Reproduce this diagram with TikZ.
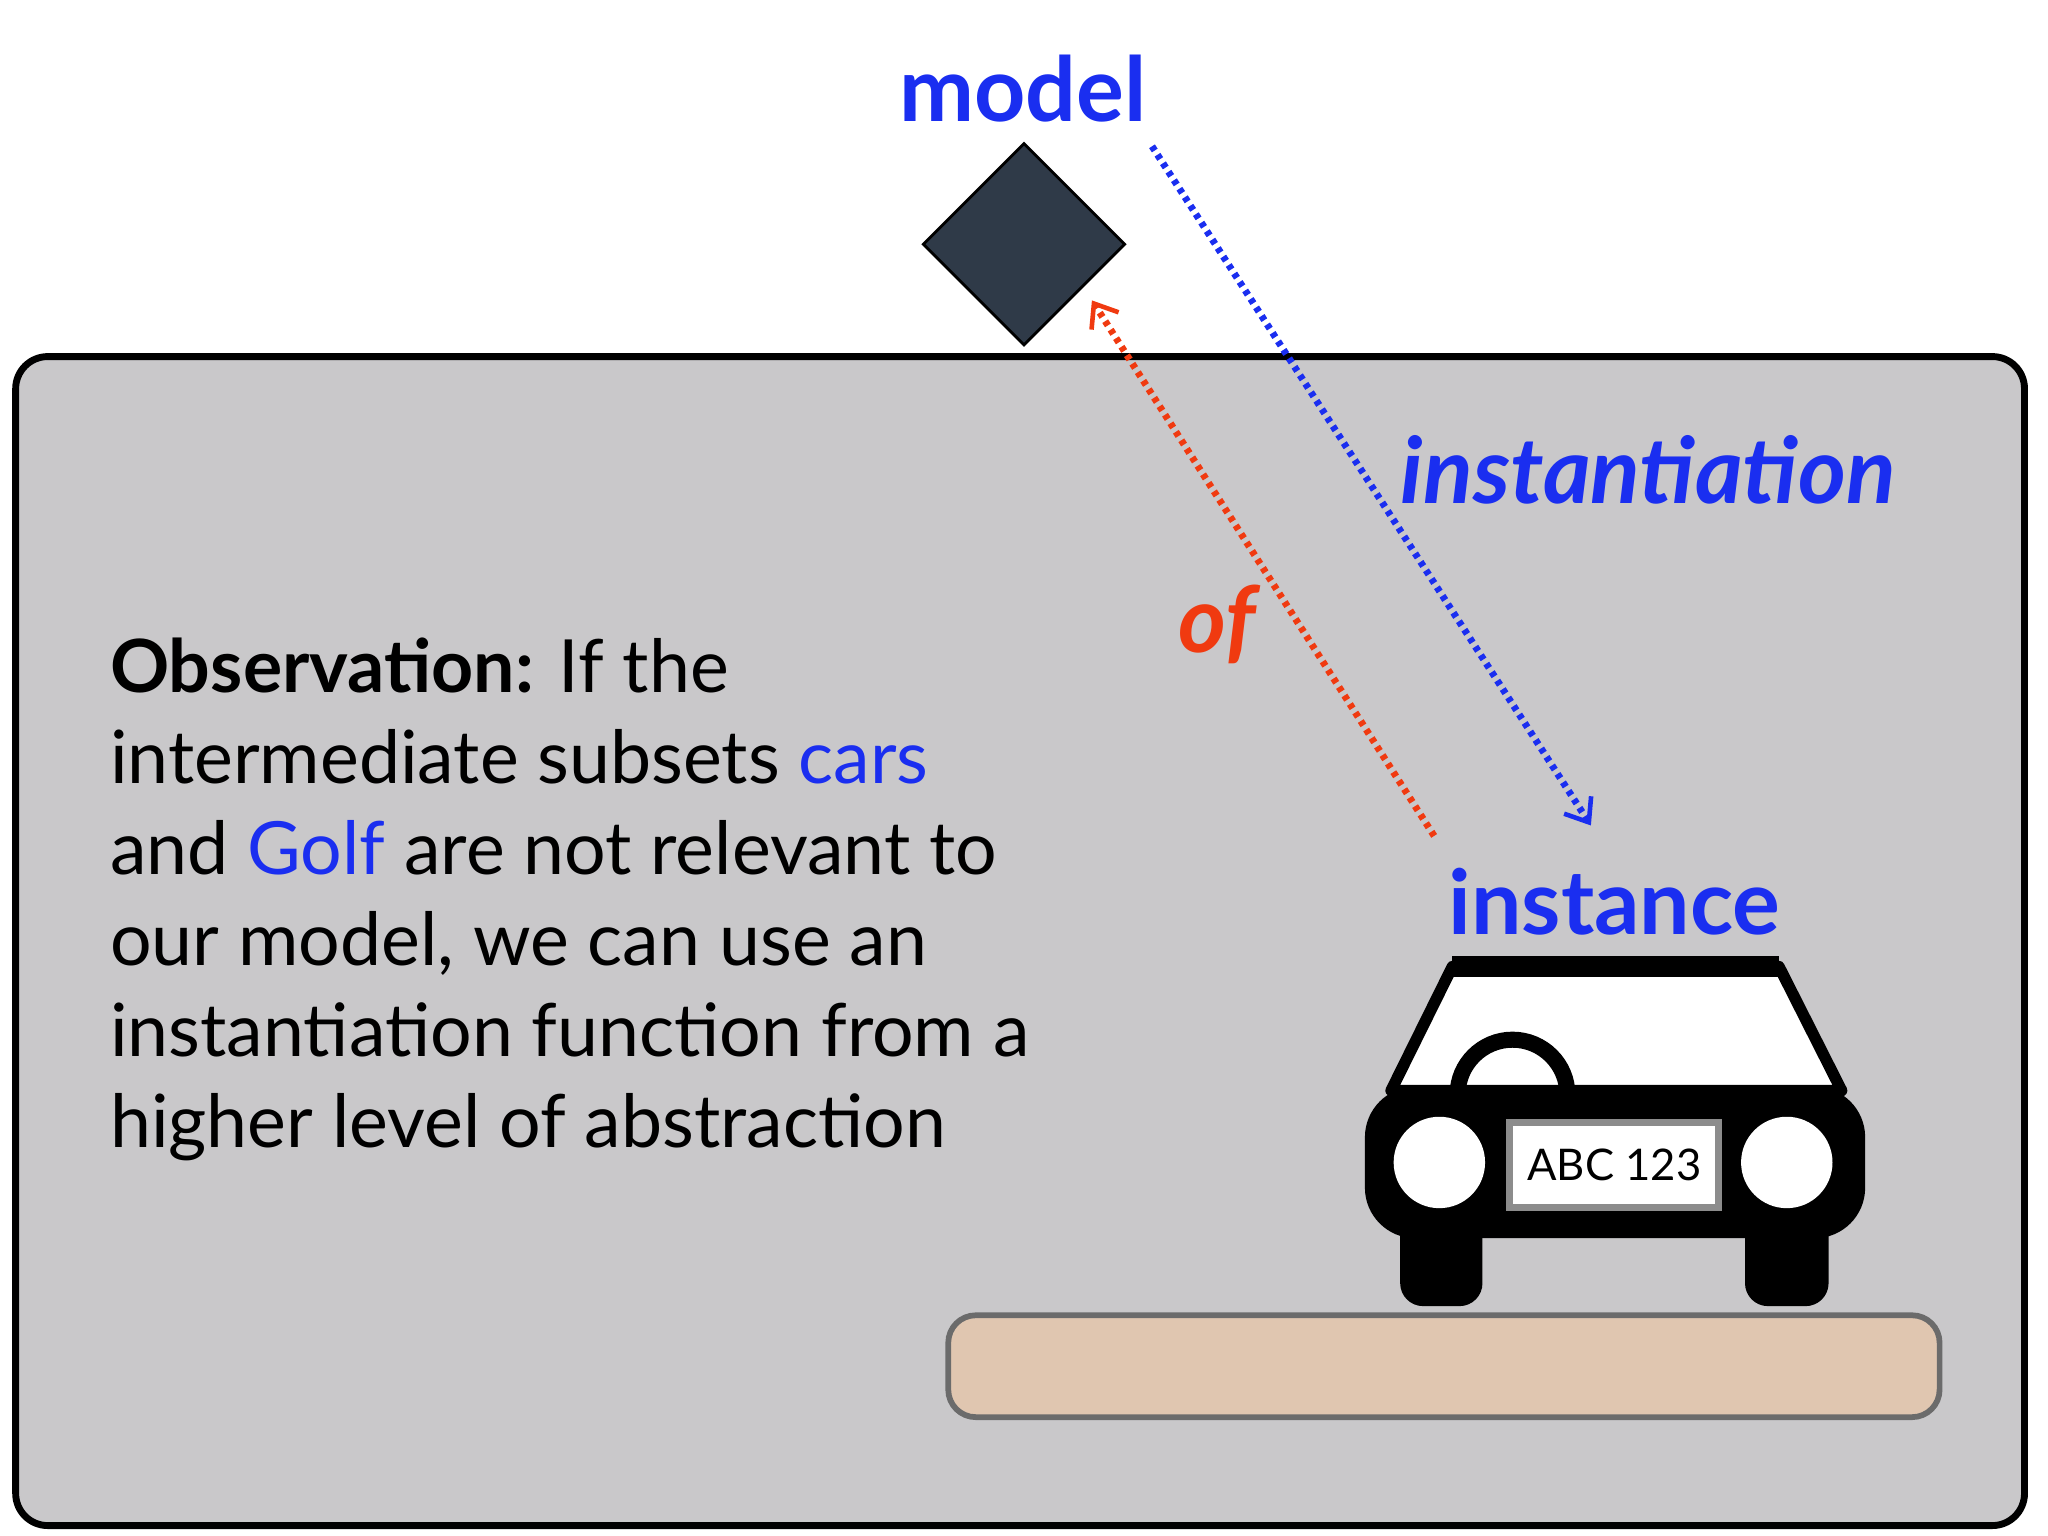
\documentclass[tikz,border=0pt]{standalone}
\usepackage{fontspec}
\setmainfont{Lato}
\usetikzlibrary{shapes.geometric,arrows.meta}
\definecolor{bblue}{HTML}{1A2EF0}
\definecolor{rred}{HTML}{F03A10}
\definecolor{boxgray}{HTML}{C9C8CA}
\definecolor{slate}{HTML}{2F3A48}
\definecolor{sand}{HTML}{E0C6B0}
\tikzset{
  lbl/.style={font=\fontsize{39}{44}\selectfont\bfseries, inner sep=0pt},
  dotarrow/.style={line width=3pt, dash pattern=on 2.2pt off 2.2pt, -{Straight Barb[length=9pt,width=14pt,line width=2pt]}},
}
\begin{document}
\begin{tikzpicture}[x=0.02cm,y=-0.02cm]
\useasboundingbox (0,0) rectangle (1568,1176);
% box
\draw[line width=3pt, fill=boxgray, rounded corners=14pt] (12,273) rectangle (1550,1168);
% diamond
\node[diamond, draw=black, line width=1.2pt, fill=slate, inner sep=0pt, minimum size=3.1cm] (d) at (784,187) {};
\node[lbl, text=bblue] (model) at (783,68) {model};
\node[lbl, text=bblue, font=\fontsize{40}{44}\selectfont\bfseries\itshape] (inst) at (1262,360) {instantiation};
\node[lbl, text=rred, font=\fontsize{40}{44}\selectfont\bfseries\itshape] (of) at (932,478) {of};
\node[lbl, text=bblue] (instance) at (1236,690) {instance};
\coordinate (b1) at (882,112); \coordinate (b2) at (1218,632);
\coordinate (r1) at (1098,640); \coordinate (r2) at (836,230);
\draw[dotarrow, draw=bblue] (b1) -- (b2);
\draw[dotarrow, draw=rred] (r1) -- (r2);
% text
\node[anchor=north west, align=left, inner sep=0pt, font=\fontsize{32}{39.7}\selectfont] (obs) at (84,488)
{{\bfseries Observation:} If the\\
intermediate subsets \textcolor{bblue}{cars}\\
and \textcolor{bblue}{Golf} are not relevant to\\
our model, we can use an\\
instantiation function from a\\
higher level of abstraction};
% ground
\draw[line width=2.5pt, draw=black!58, fill=sand, rounded corners=12pt] (726,1007) rectangle (1485,1085);
% car feet
\fill[rounded corners=10pt] (1072,925) rectangle (1135,1000);
\fill[rounded corners=10pt] (1336,925) rectangle (1400,1000);
% roof
\draw[line width=5pt, fill=white, line join=round] (1112,740) -- (1362,740) -- (1410,835) -- (1065,835) -- cycle;
\draw[line width=9pt] (1112,740) -- (1362,740);
\draw[line width=7pt] (1116,838) arc (180:360:42);
% body
\fill[rounded corners=22pt] (1045,832) rectangle (1428,948);
\node[circle, fill=white, minimum size=1.4cm, inner sep=0pt] (hl) at (1102,890) {};
\node[circle, fill=white, minimum size=1.4cm, inner sep=0pt] (hr) at (1368,890) {};
\node[draw=black!45, line width=3pt, fill=white, minimum width=3.2cm, minimum height=1.3cm, font=\fontsize{19}{20}\selectfont] (plate) at (1236,892) {ABC 123};
\end{tikzpicture}
\end{document}
